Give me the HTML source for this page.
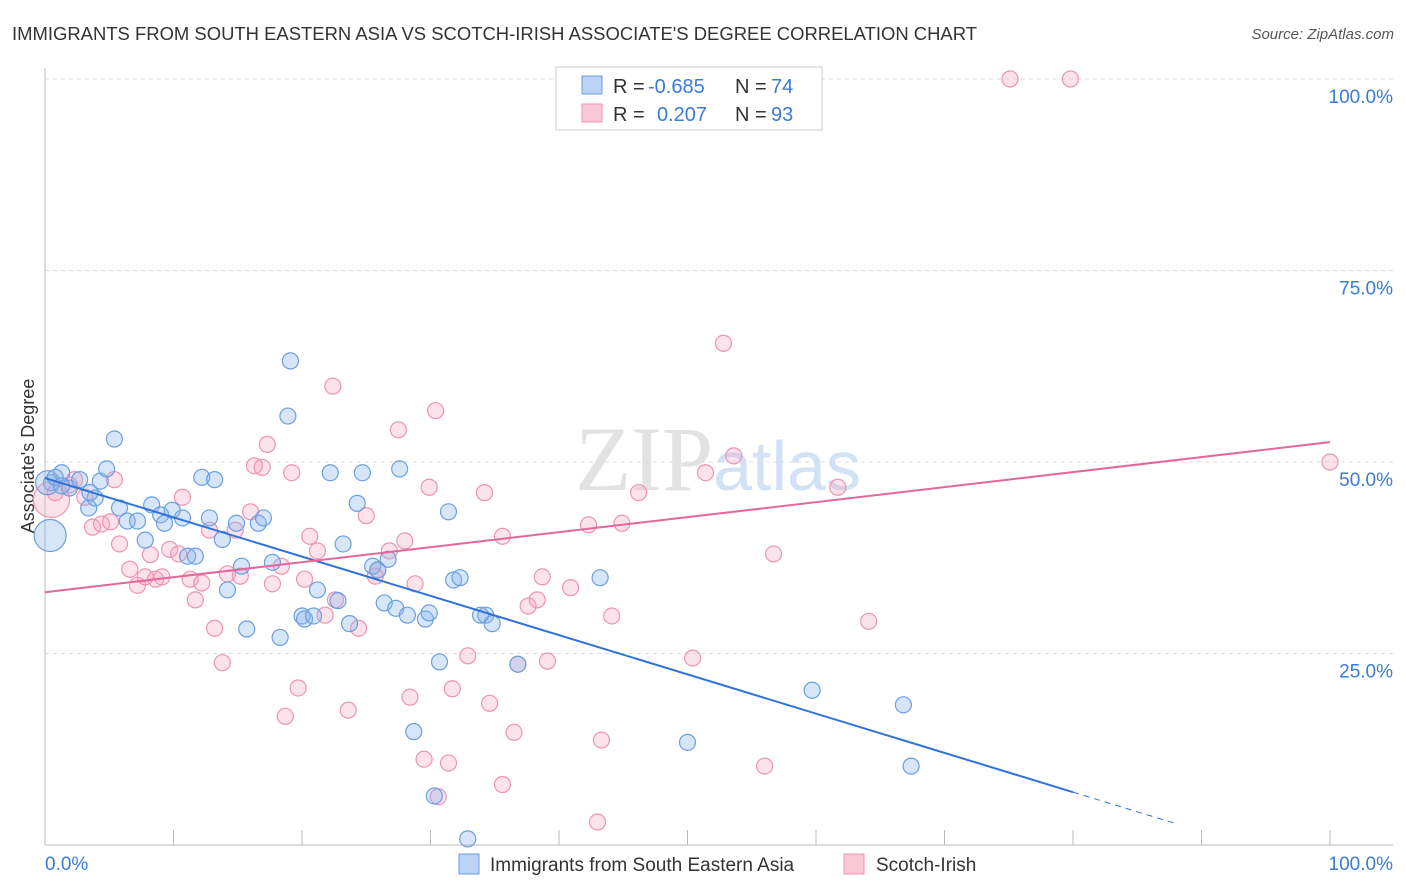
<!DOCTYPE html>
<html><head><meta charset="utf-8"><style>
body{margin:0;background:#fff;font-family:"Liberation Sans",sans-serif;}
svg{display:block}
</style></head><body>
<svg id="chart" width="1406" height="892" xmlns="http://www.w3.org/2000/svg">
<text x="12" y="40" font-size="18" fill="#333" textLength="965" lengthAdjust="spacingAndGlyphs">IMMIGRANTS FROM SOUTH EASTERN ASIA VS SCOTCH-IRISH ASSOCIATE'S DEGREE CORRELATION CHART</text>
<text x="1394" y="39" font-size="15" fill="#555" font-style="italic" text-anchor="end">Source: ZipAtlas.com</text>
<text x="0" y="0" transform="translate(34,456) rotate(-90)" font-size="18" fill="#333" text-anchor="middle">Associate's Degree</text>
<text x="718" y="490" font-size="92" fill="#e2e2e2" text-anchor="middle" font-family="Liberation Serif,serif">ZIP<tspan fill="#d3e1f5" font-family="Liberation Sans,sans-serif" font-size="70">atlas</tspan></text>
<g id="grid"></g><g id="axes"></g><g id="marks"></g><g id="trends"></g>
<g>
<rect x="556" y="67" width="266" height="63" fill="#fff" stroke="#ccc"/>
<rect x="582" y="76" width="20" height="18" fill="#b9d2f5" stroke="#6a9fe0"/>
<rect x="582" y="104" width="20" height="18" fill="#f9c8d7" stroke="#ec94b2"/>
<text x="613" y="93" font-size="20" fill="#333">R =</text>
<text x="648" y="93" font-size="20" fill="#3a7bd5">-0.685</text>
<text x="735" y="93" font-size="20" fill="#333">N =</text>
<text x="771" y="93" font-size="20" fill="#3a7bd5">74</text>
<text x="613" y="121" font-size="20" fill="#333">R =</text>
<text x="657" y="121" font-size="20" fill="#3a7bd5">0.207</text>
<text x="735" y="121" font-size="20" fill="#333">N =</text>
<text x="771" y="121" font-size="20" fill="#3a7bd5">93</text>
</g>
<g>
<rect x="459" y="854" width="20" height="20" fill="#b9d2f5" stroke="#6a9fe0"/>
<text x="490" y="871" font-size="19" fill="#333">Immigrants from South Eastern Asia</text>
<rect x="844" y="854" width="20" height="20" fill="#f9c8d7" stroke="#ec94b2"/>
<text x="876" y="871" font-size="19" fill="#333">Scotch-Irish</text>
</g>
</svg>
<script>
const yTicks=[25,50,75,100];
const yTickLabels=["25.0%","50.0%","75.0%","100.0%"];
const xTicks=[0,10,20,30,40,50,60,70,80,90,100];
const blueX=[1.3,0.5,1.9,2.7,3.4,3.9,4.3,4.8,5.4,5.8,6.4,7.2,7.8,8.3,9.0,9.3,9.9,10.7,11.1,11.7,12.2,12.8,13.2,13.8,14.2,14.9,15.3,15.7,16.6,17.0,17.7,18.3,18.9,19.1,20.0,20.2,20.9,21.2,22.2,22.8,23.2,23.7,24.3,24.7,25.5,25.9,26.4,26.7,27.3,27.6,28.2,28.7,29.6,29.9,30.3,30.7,31.4,31.8,32.3,32.9,33.9,34.3,34.8,36.8,43.2,50.0,59.7,66.8,67.4,0.4,0.2,0.8,3.5,1.3];
const blueY=[48.6,47.3,46.6,47.7,44.0,45.3,47.5,49.1,53.0,44.0,42.3,42.3,39.8,44.4,43.1,42.0,43.7,42.7,37.7,37.7,48.0,42.7,47.7,39.9,33.3,42.0,36.4,28.2,42.0,42.7,36.9,27.1,56.0,63.2,29.9,29.5,29.9,33.3,48.6,31.9,39.3,28.9,44.6,48.6,36.4,35.9,31.6,37.3,30.9,49.1,30.0,14.8,29.5,30.3,6.4,23.9,43.5,34.6,34.9,0.8,30.0,30.0,28.9,23.6,34.9,13.4,20.2,18.3,10.3,40.4,47.3,48.0,46.0,46.9];
const blueR=[8,8,8,8,8,8,8,8,8,8,8,8,8,8,8,8,8,8,8,8,8,8,8,8,8,8,8,8,8,8,8,8,8,8,8,8,8,8,8,8,8,8,8,8,8,8,8,8,8,8,8,8,8,8,8,8,8,8,8,8,8,8,8,8,8,8,8,8,8,16,12,8,8,8];
const pinkX=[0.8,1.9,2.3,3.1,3.7,4.4,5.1,5.4,5.8,6.6,7.2,7.8,8.2,8.6,9.1,9.7,10.4,10.7,11.3,11.7,12.2,12.8,13.2,13.8,14.2,14.8,15.2,16.0,16.3,16.9,17.3,17.7,18.4,18.7,19.2,19.7,20.2,20.6,21.2,21.8,22.4,22.6,23.6,24.4,25.0,25.7,25.9,26.8,27.5,28.0,28.4,28.8,29.5,29.9,30.4,30.6,31.4,31.7,32.9,34.2,34.6,35.6,35.6,36.5,36.8,37.6,38.3,38.7,39.1,40.9,42.3,43.0,43.3,44.1,44.9,46.2,50.4,51.4,52.8,53.6,56.0,56.7,61.7,64.1,75.1,79.8,100.0,0.5];
const pinkY=[46.0,47.0,47.7,45.4,41.5,41.9,42.2,47.7,39.3,36.0,33.9,35.0,37.9,34.7,35.0,38.6,38.0,45.4,34.7,32.0,34.2,41.1,28.3,23.8,35.4,41.1,35.1,43.5,49.5,49.3,52.3,34.1,36.4,16.8,48.6,20.5,34.7,40.3,38.4,30.0,59.9,32.0,17.6,28.3,43.0,35.1,35.9,38.4,54.2,39.7,19.3,34.1,11.2,46.7,56.7,6.3,10.7,20.4,24.7,46.0,18.5,40.3,7.9,14.7,23.6,31.2,32.0,35.0,24.0,33.6,41.8,3.0,13.7,29.9,42.0,46.0,24.4,48.6,65.5,50.8,10.3,38.0,46.7,29.2,100.0,100.0,50.0,45.1];
const pinkR=[8,8,8,8,8,8,8,8,8,8,8,8,8,8,8,8,8,8,8,8,8,8,8,8,8,8,8,8,8,8,8,8,8,8,8,8,8,8,8,8,8,8,8,8,8,8,8,8,8,8,8,8,8,8,8,8,8,8,8,8,8,8,8,8,8,8,8,8,8,8,8,8,8,8,8,8,8,8,8,8,8,8,8,8,8,8,8,18];
const blueTrend=[47.9,-0.5125];
const pinkTrend=[33.0,0.196];
const X=v=>45+v*12.85, Y=v=>845-v*7.66;
const NS="http://www.w3.org/2000/svg";
function mk(p,t,a){const e=document.createElementNS(NS,t);for(const k in a)e.setAttribute(k,a[k]);p.appendChild(e);return e;}
const grid=document.getElementById('grid'),axes=document.getElementById('axes'),marks=document.getElementById('marks'),trends=document.getElementById('trends');
yTicks.forEach((t,i)=>{
 const l=mk(grid,'line',{x1:45,x2:1393,y1:Y(t),y2:Y(t),stroke:'#ddd','stroke-dasharray':'4,4'});
 
 
 const tx=mk(axes,'text',{x:1393,y:Y(t)+24,'font-size':19,fill:'#3a7bd5','text-anchor':'end'});tx.textContent=yTickLabels[i];
 
 
});
mk(axes,'line',{x1:45,x2:45,y1:68,y2:845,stroke:'#bbb'});
mk(axes,'line',{x1:45,x2:1393,y1:845,y2:845,stroke:'#bbb'});
xTicks.forEach(t=>{const l=mk(axes,'line',{x1:X(t),x2:X(t),y1:830,y2:845,stroke:'#bbb'});
 
 });
const x0=mk(axes,'text',{x:45,y:870,'font-size':19,fill:'#3a7bd5'});x0.textContent='0.0%';


const x1=mk(axes,'text',{x:1393,y:870,'font-size':19,fill:'#3a7bd5','text-anchor':'end'});x1.textContent='100.0%';


function pts(xs,ys,rs,fill,stroke,name){xs.forEach((x,i)=>{const c=mk(marks,'circle',{cx:X(x),cy:Y(ys[i]),r:rs[i],fill:fill,stroke:stroke,'stroke-width':1.2});
 
 });}
pts(pinkX,pinkY,pinkR,'rgba(244,160,190,0.3)','#ec94b2','scotch-irish-point');
pts(blueX,blueY,blueR,'rgba(140,180,235,0.35)','#6a9fe0','sea-point');
const bl=mk(trends,'line',{x1:X(0),y1:Y(blueTrend[0]),x2:X(80),y2:Y(blueTrend[0]+blueTrend[1]*80),stroke:'#2f72d8','stroke-width':2});


const bd=mk(trends,'line',{x1:X(80),y1:Y(blueTrend[0]+blueTrend[1]*80),x2:X(88),y2:Y(blueTrend[0]+blueTrend[1]*88),stroke:'#2f72d8','stroke-width':1,'stroke-dasharray':'6,5'});


const pl=mk(trends,'line',{x1:X(0),y1:Y(pinkTrend[0]),x2:X(100),y2:Y(pinkTrend[0]+pinkTrend[1]*100),stroke:'#e5679a','stroke-width':2});


</script>
</body></html>
